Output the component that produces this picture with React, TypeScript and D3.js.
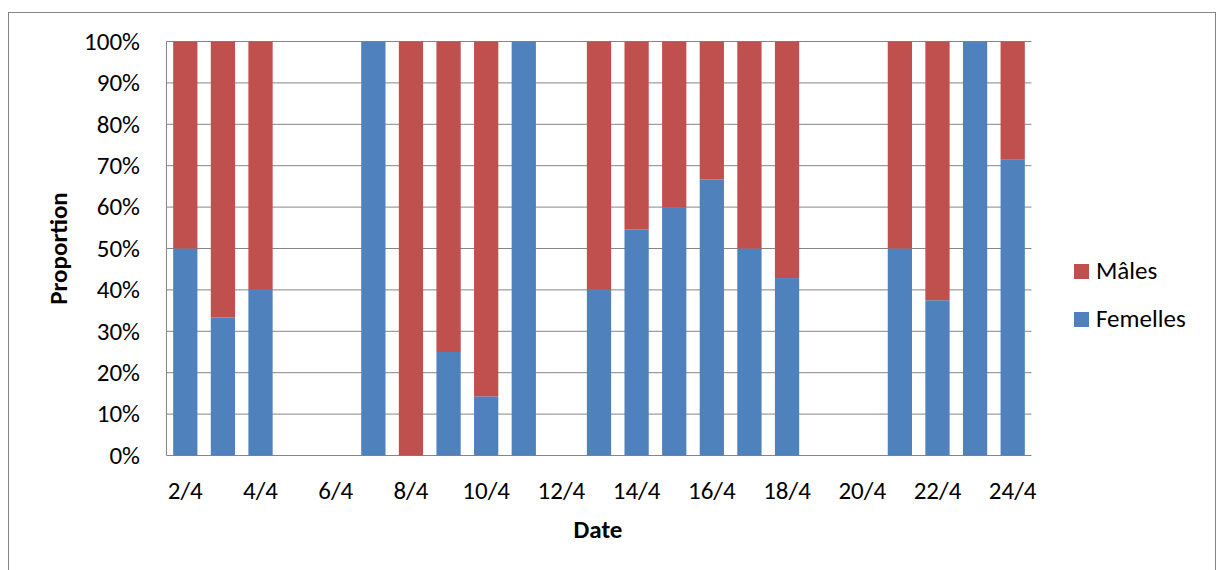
import React from "react";
import * as d3 from "d3";

// Daily sex ratio of captures (share of females / males), 2/4 to 24/4
const dates = [
  "2/4", "3/4", "4/4", "5/4", "6/4", "7/4", "8/4", "9/4", "10/4", "11/4", "12/4", "13/4",
  "14/4", "15/4", "16/4", "17/4", "18/4", "19/4", "20/4", "21/4", "22/4", "23/4", "24/4",
];
// null = no captures that day
const femelles: (number | null)[] = [
  0.5, 0.3333, 0.4, null, null, 1, 0, 0.25, 0.1429, 1, null, 0.4,
  0.5455, 0.6, 0.6667, 0.5, 0.4286, null, null, 0.5, 0.375, 1, 0.7143,
];
const males: (number | null)[] = femelles.map((f) => (f === null ? null : 1 - f));
const xTickLabels = ["2/4", "4/4", "6/4", "8/4", "10/4", "12/4", "14/4", "16/4", "18/4", "20/4", "22/4", "24/4"];
const yTicks = [0, 0.1, 0.2, 0.3, 0.4, 0.5, 0.6, 0.7, 0.8, 0.9, 1];

const W = 1217;
const H = 570;
const plot = { left: 166.5, right: 1031.5, top: 41.5, bottom: 455.5 };
const BLUE = "#4F81BD";
const RED = "#C0504D";
const FONT = "Carlito, Calibri, 'Open Sans', sans-serif";
const FS = 25;

export default function App() {
  const x = d3.scaleBand<string>().domain(dates).range([plot.left, plot.right]).paddingInner(0.355).paddingOuter(0.1775);
  const y = d3.scaleLinear().domain([0, 1]).range([plot.bottom, plot.top]);
  const pct = d3.format(".0%");

  return (
    <svg width={W} height={H} style={{ position: "absolute", left: 0, top: 0 }} fontFamily={FONT}>
      <rect x={0} y={0} width={W} height={H} fill="#fff" />
      {/* chart frame */}
      <rect x={8.5} y={12.5} width={1207} height={600} fill="none" stroke="#868686" strokeWidth={1} />

      {/* gridlines */}
      {yTicks.map((t) => (
        <line key={t} x1={plot.left} x2={plot.right} y1={y(t)} y2={y(t)} stroke="#868686" strokeWidth={1} />
      ))}
      <line x1={plot.left} x2={plot.left} y1={plot.top} y2={plot.bottom} stroke="#868686" strokeWidth={1} />

      {/* stacked bars */}
      {dates.map((d, i) => {
        const f = femelles[i];
        const m = males[i];
        if (f === null || m === null) return null;
        const bx = x(d)!;
        const bw = x.bandwidth();
        return (
          <g key={d}>
            {f > 0 && <rect x={bx} y={y(f)} width={bw} height={y(0) - y(f)} fill={BLUE} />}
            {m > 0 && <rect x={bx} y={y(f + m)} width={bw} height={y(f) - y(f + m)} fill={RED} />}
          </g>
        );
      })}

      {/* y tick labels */}
      {yTicks.map((t) => (
        <text key={t} x={140} y={y(t)} dy="0.33em" textAnchor="end" fontSize={FS} fill="#000">
          {pct(t)}
        </text>
      ))}

      {/* x tick labels */}
      {xTickLabels.map((lab) => (
        <text key={lab} x={x(lab)! + x.bandwidth() / 2} y={499} textAnchor="middle" fontSize={FS} fill="#000">
          {lab}
        </text>
      ))}

      {/* axis titles */}
      <text x={598} y={538} textAnchor="middle" fontSize={FS} fontWeight="bold" fill="#000">
        Date
      </text>
      <text
        transform={`translate(67,${(plot.top + plot.bottom) / 2}) rotate(-90)`}
        textAnchor="middle"
        fontSize={FS}
        fontWeight="bold"
        fill="#000"
      >
        Proportion
      </text>

      {/* legend */}
      <rect x={1074} y={264} width={15} height={15} fill={RED} />
      <text x={1096} y={279} fontSize={FS} fill="#000">Mâles</text>
      <rect x={1074} y={312} width={15} height={15} fill={BLUE} />
      <text x={1096} y={327} fontSize={FS} fill="#000">Femelles</text>
    </svg>
  );
}
